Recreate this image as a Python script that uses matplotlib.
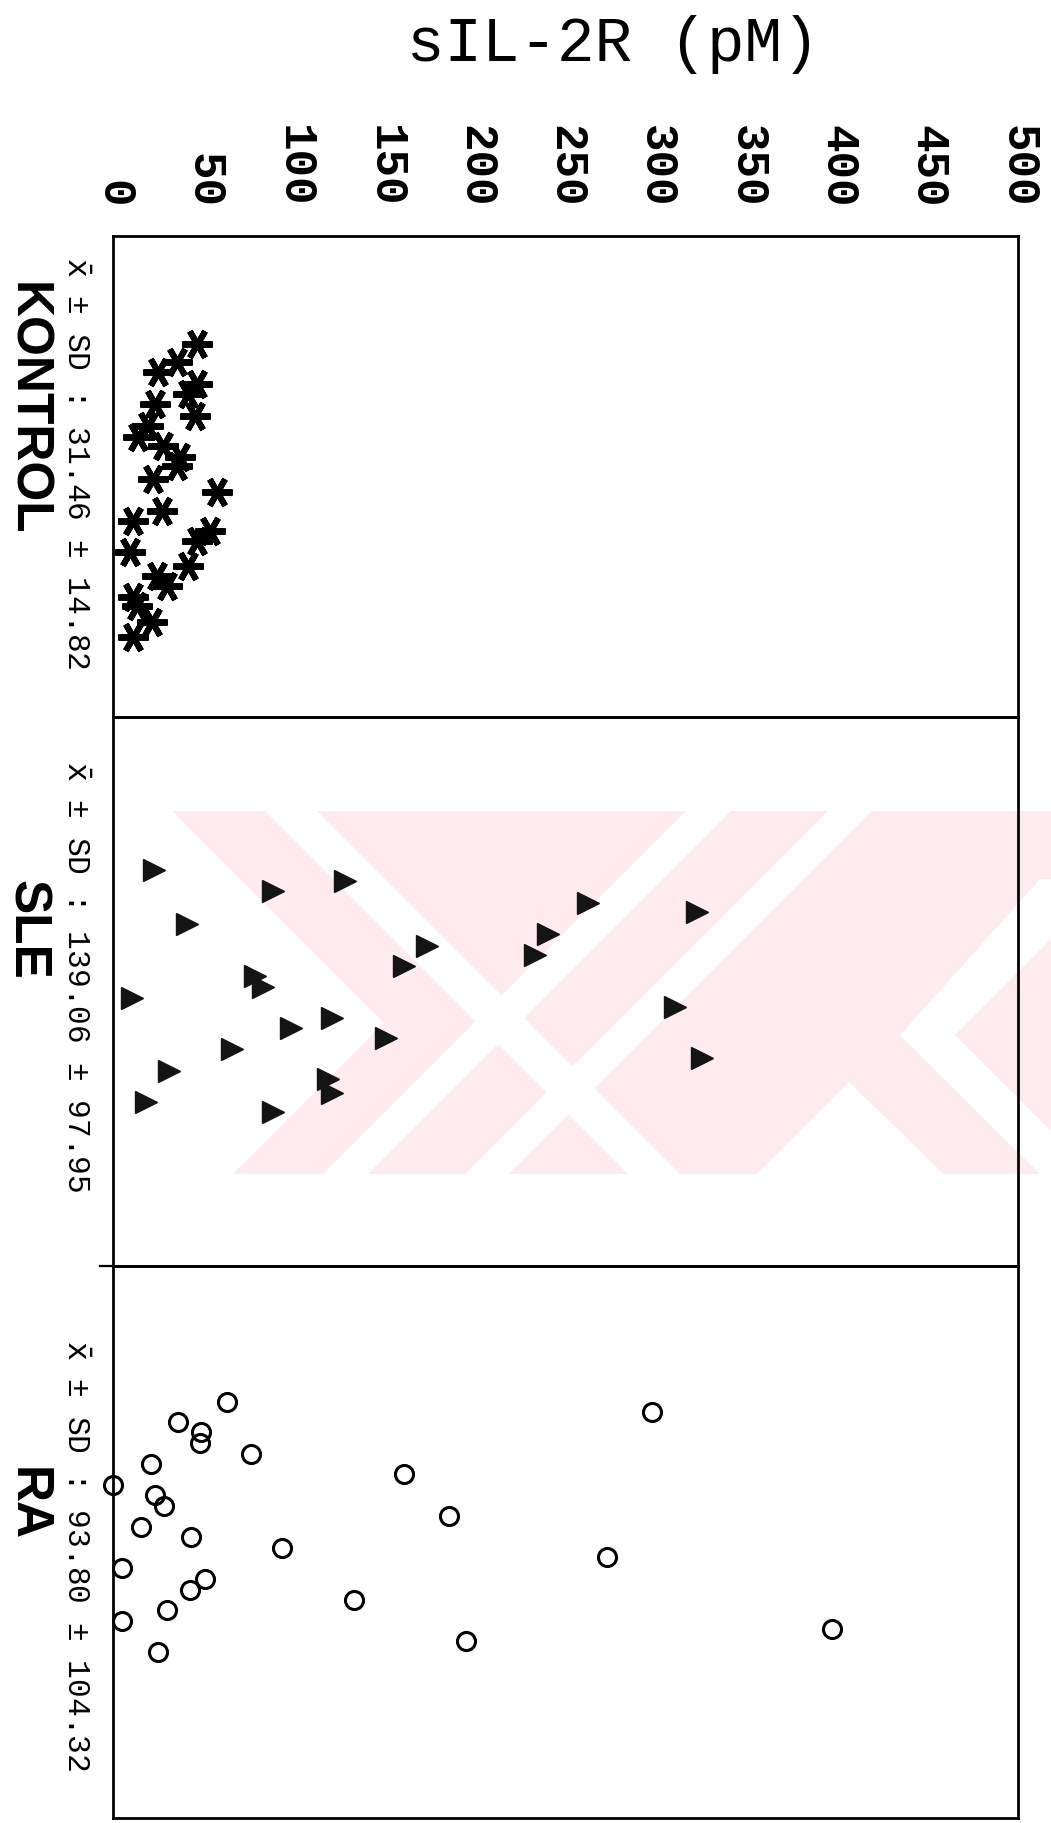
import matplotlib
matplotlib.use("Agg")
import matplotlib.pyplot as plt
from matplotlib.lines import Line2D
from matplotlib.patches import Polygon, Rectangle

# ---------------- data ----------------
groups = ["KONTROL", "SLE", "RA"]
stat_labels = [r"$\bar{\mathtt{x}}$ ± SD : 31.46 ± 14.82",
               r"$\bar{\mathtt{x}}$ ± SD : 139.06 ± 97.95",
               r"$\bar{\mathtt{x}}$ ± SD : 93.80 ± 104.32"]
tick_values = [0, 50, 100, 150, 200, 250, 300, 350, 400, 450, 500]
value_label = "sIL-2R (pM)"

kontrol_values = [46.2, 35.2, 25.0, 46.2, 41.6, 23.2, 45.3, 19.5, 14.0, 27.8, 37.0, 35.2, 22.3,
                  57.3, 26.9, 11.2, 53.6, 46.2, 9.4, 41.6, 24.1, 29.7, 11.2, 13.1, 21.4, 11.2]
kontrol_pos = [0.225, 0.262, 0.283, 0.308, 0.328, 0.349, 0.374, 0.395, 0.418, 0.437, 0.459, 0.478, 0.505,
               0.532, 0.572, 0.593, 0.613, 0.634, 0.657, 0.686, 0.707, 0.728, 0.751, 0.769, 0.802, 0.834]

sle_values = [22.7, 88.2, 128.2, 40.7, 173.6, 160.8, 78.5, 82.7, 10.7, 98.3, 121.2, 150.8,
              65.6, 30.9, 118.6, 121.2, 18.2, 88.2, 262.6, 240.5, 233.1, 322.8, 310.5, 325.2]
sle_pos = [0.278, 0.317, 0.298, 0.377, 0.417, 0.453, 0.471, 0.491, 0.511, 0.566, 0.548, 0.585,
           0.605, 0.644, 0.659, 0.684, 0.702, 0.720, 0.338, 0.395, 0.434, 0.356, 0.528, 0.622]

ra_values = [63.1, 36.1, 48.6, 48.1, 76.1, 20.8, 160.8, 0.0, 23.2, 28.3, 15.5, 43.1, 93.2,
             5.1, 50.8, 42.5, 133.3, 30.0, 4.8, 24.7, 298.0, 185.8, 272.8, 397.1, 195.0]
ra_pos = [0.247, 0.283, 0.301, 0.321, 0.341, 0.359, 0.377, 0.396, 0.414, 0.434, 0.472, 0.491, 0.511,
          0.548, 0.567, 0.587, 0.605, 0.624, 0.644, 0.700, 0.264, 0.452, 0.528, 0.658, 0.679]

# ---------------- layout ----------------
W, H = 1051, 1824
fig = plt.figure(figsize=(W / 100, H / 100), dpi=100)
fig.patch.set_facecolor("white")


def fp(x, y):
    """pixel (from top-left) -> figure fraction"""
    return (x / W, 1 - y / H)


# faint pink scanner watermark (decoration behind the middle panel)
pink = "#fdebef"
wm_x0, wm_x1, wm_y0, wm_y1 = 172, 1051, 812, 1175
fig.add_artist(Rectangle(fp(wm_x0, wm_y1), (wm_x1 - wm_x0) / W, (wm_y1 - wm_y0) / H,
                         transform=fig.transFigure, facecolor=pink, edgecolor="none", zorder=0))
white_shapes = [
    # notch left of the first chevron
    [(172, 812), (384, 1024), (233, 1175), (172, 1175)],
    # "\" stripe
    [(265, 812), (317, 812), (680, 1175), (628, 1175)],
    # "/" stripes
    [(686, 812), (731, 812), (368, 1175), (323, 1175)],
    [(828, 812), (872, 812), (509, 1175), (465, 1175)],
    # notches on the right
    [(757, 1175), (849, 1083), (944, 1175)],
    [(1051, 880), (1051, 940), (955, 1036), (1051, 1132), (1051, 1175), (1040, 1175),
     (900, 1036), (1040, 880)],
]
for shp in white_shapes:
    fig.add_artist(Polygon([fp(x, y) for x, y in shp], closed=True, transform=fig.transFigure,
                           facecolor="white", edgecolor="none", zorder=0.5))

left_px, right_px = 113, 1018
edges = [237, 718, 1267, 1819]

axes = []
for i in range(3):
    top, bot = edges[i], edges[i + 1]
    ax = fig.add_axes([left_px / W, 1 - bot / H, (right_px - left_px) / W, (bot - top) / H])
    ax.set_zorder(2)
    ax.set_xlim(0, 500)
    ax.set_ylim(1, 0)
    ax.set_yticks([])
    ax.patch.set_alpha(0)
    for s in ax.spines.values():
        s.set_linewidth(2.0)
        s.set_color("black")
    ax.tick_params(axis="x", length=0, bottom=False, labelbottom=False)
    axes.append(ax)

ax0 = axes[0]
ax0.set_xticks(tick_values)
ax0.set_xticklabels([str(t) for t in tick_values])
ax0.tick_params(axis="x", top=True, labeltop=True, length=0, pad=21)
for lab in ax0.get_xticklabels():
    lab.set_rotation(270)
    lab.set_ha("center")
    lab.set_va("bottom")
    lab.set_family("Liberation Mono")
    lab.set_fontweight("bold")
    lab.set_fontsize(33)
for ax in axes[1:]:
    ax.set_xticks([])

# markers
axes[0].plot(kontrol_values, kontrol_pos, linestyle="none", marker=(6, 2, 90),
             markersize=22, markeredgewidth=4.3, color="black", clip_on=False)
axes[1].plot(sle_values, sle_pos, linestyle="none", marker=">",
             markersize=15.5, markerfacecolor="#141414", markeredgecolor="#141414",
             markeredgewidth=1, clip_on=False)
axes[2].plot(ra_values, ra_pos, linestyle="none", marker="o",
             markersize=13, markerfacecolor="none", markeredgecolor="black",
             markeredgewidth=2.2, clip_on=False)

# title (value axis label)
fig.text(613 / W, 1 - 45 / H, value_label, ha="center", va="center",
         family="Liberation Mono", fontsize=45)

# group labels and statistics
label_tops = [282, 880, 1467]
stat_tops = [257, 761, 1340]
for g, s, lt, st in zip(groups, stat_labels, label_tops, stat_tops):
    fig.text(27 / W, 1 - lt / H, g, rotation=270, ha="center", va="top",
             family="Liberation Sans", fontweight="bold", fontsize=37)
    fig.text(75 / W, 1 - st / H, s, rotation=270, ha="center", va="top",
             family="Liberation Mono", fontsize=22.5)

# small overhang of the lower divider
fig.add_artist(Line2D([100 / W, left_px / W], [1 - 1267 / H] * 2, color="black", lw=1.6))

fig.savefig("out.png", dpi=100, facecolor="white")
